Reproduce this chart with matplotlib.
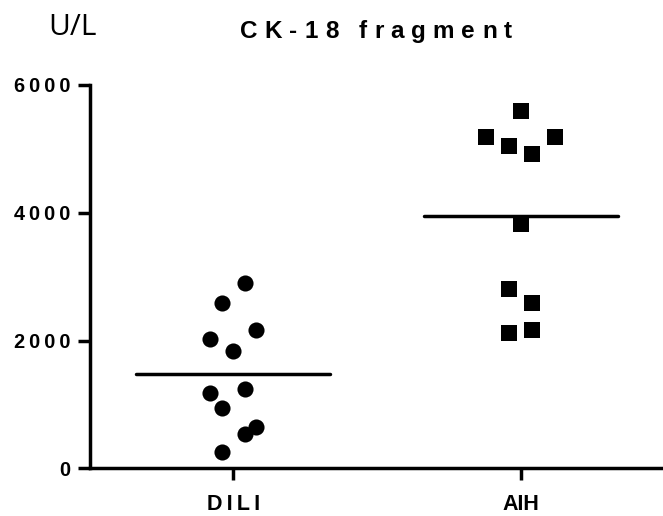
import matplotlib
matplotlib.use("Agg")
import matplotlib.pyplot as plt
import numpy as np
from matplotlib.font_manager import FontProperties, findfont, get_font

# ---- data -------------------------------------------------------------
groups = ["DILI", "AIH"]

dili_values = [2896, 2592, 2165, 2024, 1836, 1241, 1183, 949, 642, 537, 250]
dili_jitter = [0.04, -0.04, 0.08, -0.08, 0.0, 0.04, -0.08, -0.04, 0.08, 0.04, -0.04]

aih_values = [5598, 5182, 5182, 5045, 4915, 3824, 2807, 2592, 2123, 2165]
aih_jitter = [0.0, -0.12, 0.12, -0.04, 0.04, 0.0, -0.04, 0.04, -0.04, 0.04]

y_ticks = [0, 2000, 4000, 6000]

title_text = "CK-18 fragment"
unit_text = "U/L"

THIN = "\u2009"

# ---- figure -----------------------------------------------------------
W, H, DPI = 663, 516, 100
fig = plt.figure(figsize=(W / DPI, H / DPI), dpi=DPI)
ax = fig.add_axes([89.6 / W, (H - 468.3) / H, 574.8 / W, (468.3 - 85) / H])

lw = 2.5
marker_kw = dict(linestyle="none", color="black", markeredgewidth=0)

ax.plot(0 + np.array(dili_jitter), dili_values, marker="o", markersize=11.6, **marker_kw)
ax.plot(1 + np.array(aih_jitter), aih_values, marker="s", markersize=11.8, **marker_kw)

# group means
half = 0.337
for pos, vals in enumerate([dili_values, aih_values]):
    m = float(np.mean(vals))
    ax.plot([pos - half, pos + half], [m, m], color="black", linewidth=2.5,
            solid_capstyle="round")

ax.set_xlim(-0.5, 1.5)
ax.set_ylim(0, 6000)
ax.set_xticks(range(len(groups)))
ax.set_xticklabels([THIN.join(groups[0]), groups[1]])
ax.set_yticks(y_ticks)
ax.set_yticklabels([THIN.join(str(v)) for v in y_ticks])

for side in ("top", "right"):
    ax.spines[side].set_visible(False)
for side in ("left", "bottom"):
    ax.spines[side].set_linewidth(lw)
    ax.spines[side].set_capstyle("projecting")

ax.tick_params(axis="both", direction="out", length=8.6, width=lw, color="black")
ax.tick_params(axis="y", pad=5)
ax.tick_params(axis="x", pad=10)
label_family = ["Liberation Sans", "DejaVu Sans"]
for lab in ax.get_yticklabels():
    lab.set_fontfamily(label_family)
    lab.set_fontweight("bold")
    lab.set_fontsize(14.3)
for lab in ax.get_xticklabels():
    lab.set_fontfamily(label_family)
    lab.set_fontweight("bold")
    lab.set_fontsize(15.5)


# ---- letter-spaced title ----------------------------------------------
def tracked_text(fig, center_px, baseline_frac, s, tracking_px, prop):
    font = get_font(findfont(prop))
    font.set_size(prop.get_size_in_points(), fig.dpi)
    adv = [font.load_char(ord(c)).linearHoriAdvance / 65536.0 for c in s]
    total = sum(adv) + tracking_px * (len(s) - 1)
    x = center_px - total / 2.0
    for c, a in zip(s, adv):
        if c != " ":
            fig.text(x / W, baseline_frac, c, fontproperties=prop,
                     ha="left", va="baseline")
        x += a + tracking_px


title_prop = FontProperties(family="Liberation Sans", weight="bold", size=17.5)
tracked_text(fig, 376, 1 - 38.3 / H, title_text, 7.0, title_prop)

fig.text(72.5 / W, 1 - 35 / H, unit_text, fontsize=21.5, family="Open Sans",
         ha="center", va="baseline")

fig.savefig("out.png", dpi=DPI)
